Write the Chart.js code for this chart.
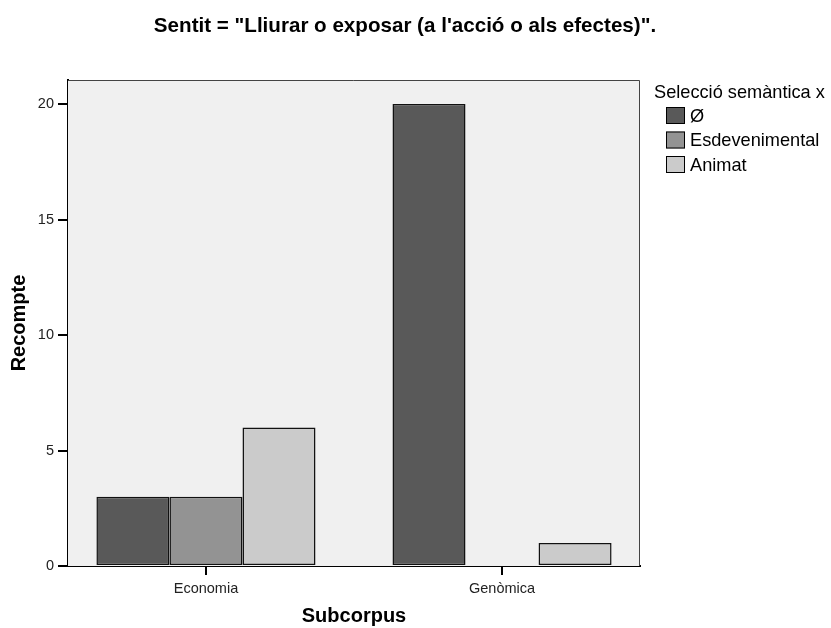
<!DOCTYPE html>
<html><head><meta charset="utf-8">
<script src="https://cdn.jsdelivr.net/npm/chart.js@4"></script>
<style>html,body{margin:0;padding:0;background:#fff}#c{display:block}</style>
</head><body>
<canvas id="c" width="831" height="628"></canvas>
<script>
const chartTitle = 'Sentit = "Lliurar o exposar (a l\'acció o als efectes)".';
const categories = ['Economia', 'Genòmica'];
const seriesNames = ['Ø', 'Esdevenimental', 'Animat'];
const valuesBuit = [3, 20];
const valuesEsdevenimental = [3, 0];
const valuesAnimat = [6, 1];
const yTicks = [0, 5, 10, 15, 20];
const legendTitle = 'Selecció semàntica x';
const xTitle = 'Subcorpus';
const yTitle = 'Recompte';
const colors = ['#595959', '#939393', '#cbcbcb'];
const FONT = '"Liberation Sans", Arial, sans-serif';

const series = [valuesBuit, valuesEsdevenimental, valuesAnimat];
const datasets = series.map((vals, k) => ({
  label: seriesNames[k],
  data: categories.map((c, i) => ({x: i, y: vals[i]})),
  backgroundColor: colors[k],
  borderColor: '#111',
  borderWidth: 1.5,
  borderSkipped: false,
  categoryPercentage: 0.74,
  barPercentage: 1.0
}));

const framePlugin = {
  id: 'frame',
  beforeDatasetsDraw(chart) {
    const {ctx, chartArea: a} = chart;
    ctx.save();
    ctx.fillStyle = '#f0f0f0';
    ctx.fillRect(a.left, a.top, a.right - a.left, a.bottom - a.top);
    ctx.strokeStyle = '#444';
    ctx.lineWidth = 1;
    ctx.beginPath();
    ctx.moveTo(a.left, a.top + 0.5);
    ctx.lineTo(a.right - 0.5, a.top + 0.5);
    ctx.lineTo(a.right - 0.5, a.bottom);
    ctx.stroke();
    ctx.restore();
  },
  afterDraw(chart) {
    const {ctx} = chart;
    ctx.save();
    ctx.fillStyle = '#000';
    ctx.textBaseline = 'alphabetic';
    ctx.textAlign = 'center';
    ctx.font = 'bold 20.6px ' + FONT;
    ctx.fillText(chartTitle, 405, 31.5);
    // legend
    ctx.textAlign = 'left';
    ctx.font = '18.2px ' + FONT;
    ctx.fillText(legendTitle, 654, 98);
    chart.data.datasets.forEach((d, i) => {
      const top = 107 + i * 24.5;
      ctx.fillStyle = d.backgroundColor;
      ctx.fillRect(666, top, 19, 17);
      ctx.strokeStyle = '#000';
      ctx.lineWidth = 1;
      ctx.strokeRect(666.5, top + 0.5, 18, 16);
      ctx.fillStyle = '#000';
      ctx.fillText(d.label, 690, top + 14.5);
    });
    ctx.restore();
  }
};

new Chart(document.getElementById('c'), {
  type: 'bar',
  data: {datasets},
  options: {
    responsive: false,
    animation: false,
    layout: {padding: {top: 80, right: 191, left: 0, bottom: 0}},
    plugins: {legend: {display: false}, tooltip: {enabled: false}},
    scales: {
      x: {
        type: 'linear',
        offset: false,
        min: -0.466,
        max: 1.466,
        afterBuildTicks: s => { s.ticks = categories.map((c, i) => ({value: i})); },
        afterFit: s => { s.height = 62; },
        grid: {offset: false, drawOnChartArea: false, drawTicks: true, tickLength: 9, color: '#000', lineWidth: 2},
        border: {display: true, color: '#000', width: 2},
        ticks: {
          autoSkip: false, maxRotation: 0, padding: 5,
          color: '#222', font: {family: FONT, size: 14.5},
          callback: v => categories[v] ?? ''
        },
        title: {display: true, text: xTitle, color: '#000', font: {family: FONT, size: 20, weight: 'bold'}, padding: {top: 2, bottom: 0}}
      },
      y: {
        min: 0,
        max: 21.04,
        afterBuildTicks: s => { s.ticks = yTicks.map(v => ({value: v})); },
        afterFit: s => { s.width = 68; },
        grid: {drawOnChartArea: false, drawTicks: true, tickLength: 10, color: '#000', lineWidth: 2},
        border: {display: true, color: '#000', width: 2},
        ticks: {color: '#222', font: {family: FONT, size: 14.5}, padding: 4},
        title: {display: true, text: yTitle, color: '#000', font: {family: FONT, size: 20, weight: 'bold'}, padding: {top: 7, bottom: 0}}
      }
    }
  },
  plugins: [framePlugin]
});
</script>
</body></html>
